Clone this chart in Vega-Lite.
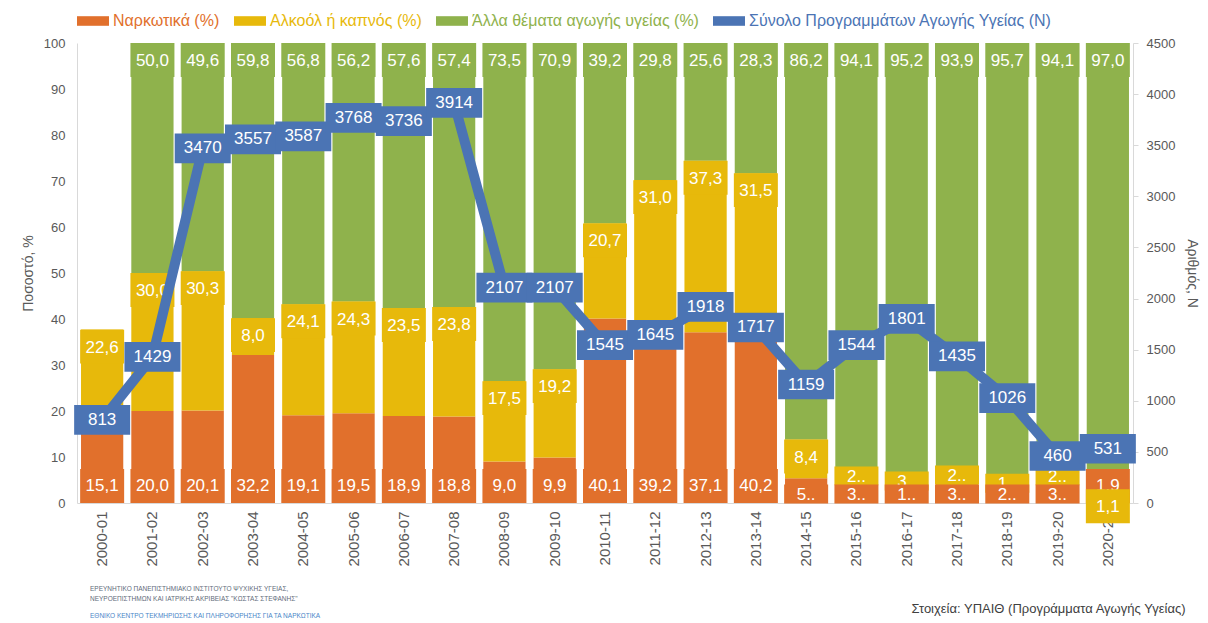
{
  "$schema": "https://vega.github.io/schema/vega-lite/v6.json",
  "width": 1056,
  "height": 460,
  "autosize": {"type": "none"},
  "padding": {"left": 77, "top": 43, "right": 75, "bottom": 120},
  "background": "white",
  "config": {
    "locale": {"number": {"decimal": ",", "thousands": ".", "grouping": [3], "currency": ["", " €"]}},
    "font": "Liberation Sans",
    "view": {"stroke": null},
    "axis": {"labelColor": "#595959", "titleColor": "#595959", "domainColor": "#D9D9D9", "tickColor": "#D9D9D9", "grid": false, "labelFont": "Liberation Sans", "titleFont": "Liberation Sans", "titleFontWeight": "normal"}
  },
  "title": {
    "text": ["ΕΡΕΥΝΗΤΙΚΟ ΠΑΝΕΠΙΣΤΗΜΙΑΚΟ ΙΝΣΤΙΤΟΥΤΟ ΨΥΧΙΚΗΣ ΥΓΕΙΑΣ,", "ΝΕΥΡΟΕΠΙΣΤΗΜΩΝ ΚΑΙ ΙΑΤΡΙΚΗΣ ΑΚΡΙΒΕΙΑΣ \"ΚΩΣΤΑΣ ΣΤΕΦΑΝΗΣ\""],
    "subtitle": "ΕΘΝΙΚΟ ΚΕΝΤΡΟ ΤΕΚΜΗΡΙΩΣΗΣ ΚΑΙ ΠΛΗΡΟΦΟΡΗΣΗΣ ΓΙΑ ΤΑ ΝΑΡΚΩΤΙΚΑ",
    "orient": "bottom",
    "anchor": "start",
    "frame": "group",
    "font": "Liberation Sans",
    "fontSize": 6.5,
    "fontWeight": "normal",
    "color": "#5F6B7A",
    "lineHeight": 10,
    "subtitleFont": "Liberation Sans",
    "subtitleFontSize": 6.5,
    "subtitleColor": "#4A86C8",
    "subtitlePadding": 10,
    "dx": 13,
    "dy": -33
  },
  "datasets": {
    "shares": [
      {"year": "2000-01", "Ναρκωτικά (%)": 15.1, "Αλκοόλ ή καπνός (%)": 22.6},
      {"year": "2001-02", "Ναρκωτικά (%)": 20.0, "Αλκοόλ ή καπνός (%)": 30.0, "Άλλα θέματα αγωγής υγείας (%)": 50.0},
      {"year": "2002-03", "Ναρκωτικά (%)": 20.1, "Αλκοόλ ή καπνός (%)": 30.3, "Άλλα θέματα αγωγής υγείας (%)": 49.6},
      {"year": "2003-04", "Ναρκωτικά (%)": 32.2, "Αλκοόλ ή καπνός (%)": 8.0, "Άλλα θέματα αγωγής υγείας (%)": 59.8},
      {"year": "2004-05", "Ναρκωτικά (%)": 19.1, "Αλκοόλ ή καπνός (%)": 24.1, "Άλλα θέματα αγωγής υγείας (%)": 56.8},
      {"year": "2005-06", "Ναρκωτικά (%)": 19.5, "Αλκοόλ ή καπνός (%)": 24.3, "Άλλα θέματα αγωγής υγείας (%)": 56.2},
      {"year": "2006-07", "Ναρκωτικά (%)": 18.9, "Αλκοόλ ή καπνός (%)": 23.5, "Άλλα θέματα αγωγής υγείας (%)": 57.6},
      {"year": "2007-08", "Ναρκωτικά (%)": 18.8, "Αλκοόλ ή καπνός (%)": 23.8, "Άλλα θέματα αγωγής υγείας (%)": 57.4},
      {"year": "2008-09", "Ναρκωτικά (%)": 9.0, "Αλκοόλ ή καπνός (%)": 17.5, "Άλλα θέματα αγωγής υγείας (%)": 73.5},
      {"year": "2009-10", "Ναρκωτικά (%)": 9.9, "Αλκοόλ ή καπνός (%)": 19.2, "Άλλα θέματα αγωγής υγείας (%)": 70.9},
      {"year": "2010-11", "Ναρκωτικά (%)": 40.1, "Αλκοόλ ή καπνός (%)": 20.7, "Άλλα θέματα αγωγής υγείας (%)": 39.2},
      {"year": "2011-12", "Ναρκωτικά (%)": 39.2, "Αλκοόλ ή καπνός (%)": 31.0, "Άλλα θέματα αγωγής υγείας (%)": 29.8},
      {"year": "2012-13", "Ναρκωτικά (%)": 37.1, "Αλκοόλ ή καπνός (%)": 37.3, "Άλλα θέματα αγωγής υγείας (%)": 25.6},
      {"year": "2013-14", "Ναρκωτικά (%)": 40.2, "Αλκοόλ ή καπνός (%)": 31.5, "Άλλα θέματα αγωγής υγείας (%)": 28.3},
      {"year": "2014-15", "Ναρκωτικά (%)": 5.4, "Αλκοόλ ή καπνός (%)": 8.4, "Άλλα θέματα αγωγής υγείας (%)": 86.2},
      {"year": "2015-16", "Ναρκωτικά (%)": 3.6, "Αλκοόλ ή καπνός (%)": 2.3, "Άλλα θέματα αγωγής υγείας (%)": 94.1},
      {"year": "2016-17", "Ναρκωτικά (%)": 1.6, "Αλκοόλ ή καπνός (%)": 3.2, "Άλλα θέματα αγωγής υγείας (%)": 95.2},
      {"year": "2017-18", "Ναρκωτικά (%)": 3.4, "Αλκοόλ ή καπνός (%)": 2.7, "Άλλα θέματα αγωγής υγείας (%)": 93.9},
      {"year": "2018-19", "Ναρκωτικά (%)": 2.6, "Αλκοόλ ή καπνός (%)": 1.7, "Άλλα θέματα αγωγής υγείας (%)": 95.7},
      {"year": "2019-20", "Ναρκωτικά (%)": 3.4, "Αλκοόλ ή καπνός (%)": 2.5, "Άλλα θέματα αγωγής υγείας (%)": 94.1},
      {"year": "2020-21", "Ναρκωτικά (%)": 1.9, "Αλκοόλ ή καπνός (%)": 1.1, "Άλλα θέματα αγωγής υγείας (%)": 97.0}
    ],
    "totals": [
      {"year": "2000-01", "n": 813},
      {"year": "2001-02", "n": 1429},
      {"year": "2002-03", "n": 3470},
      {"year": "2003-04", "n": 3557},
      {"year": "2004-05", "n": 3587},
      {"year": "2005-06", "n": 3768},
      {"year": "2006-07", "n": 3736},
      {"year": "2007-08", "n": 3914},
      {"year": "2008-09", "n": 2107},
      {"year": "2009-10", "n": 2107},
      {"year": "2010-11", "n": 1545},
      {"year": "2011-12", "n": 1645},
      {"year": "2012-13", "n": 1918},
      {"year": "2013-14", "n": 1717},
      {"year": "2014-15", "n": 1159},
      {"year": "2015-16", "n": 1544},
      {"year": "2016-17", "n": 1801},
      {"year": "2017-18", "n": 1435},
      {"year": "2018-19", "n": 1026},
      {"year": "2019-20", "n": 460},
      {"year": "2020-21", "n": 531}
    ]
  },
  "layer": [
    {
      "data": {"name": "shares"},
      "transform": [
        {"fold": ["Ναρκωτικά (%)", "Αλκοόλ ή καπνός (%)", "Άλλα θέματα αγωγής υγείας (%)"], "as": ["series", "value"]},
        {"filter": "isValid(datum.value)"},
        {"stack": "value", "groupby": ["year"], "sort": [{"field": "series", "order": "descending"}], "as": ["v0", "v1"]}
      ],
      "encoding": {
        "x": {
          "field": "year", "type": "nominal", "sort": null,
          "scale": {"paddingInner": 0.16, "paddingOuter": 0.08},
          "axis": {"title": "Στοιχεία: ΥΠΑΙΘ (Προγράμματα Αγωγής Υγείας)", "titleAnchor": "end", "titleAlign": "right", "titleBaseline": "middle", "titleX": 1108, "titleY": 105, "titleFontSize": 13, "titleColor": "#404040", "labelAngle": -90, "labelFontSize": 15, "labelPadding": 8, "ticks": false, "domain": true}
        },
        "color": {
          "field": "series", "type": "nominal",
          "scale": {
            "domain": ["Ναρκωτικά (%)", "Αλκοόλ ή καπνός (%)", "Άλλα θέματα αγωγής υγείας (%)", "Σύνολο Προγραμμάτων Αγωγής Υγείας (N)"],
            "range": ["#E1702C", "#E7B90B", "#8FB24C", "#4B74B4"]
          },
          "legend": {
            "orient": "top", "direction": "horizontal", "title": null,
            "labelFontSize": 16, "labelFont": "Liberation Sans",
            "symbolType": "M-1,-0.3L1,-0.3L1,0.3L-1,0.3Z", "symbolSize": 1024, "symbolStrokeWidth": 0,
            "columnPadding": 14, "labelOffset": 4, "offset": 14, "labelLimit": 400,
            "encode": {
              "symbols": {"update": {"fill": {"scale": "color", "field": "value"}, "stroke": {"value": "transparent"}, "opacity": {"value": 1}, "shape": {"value": "M-1,-0.3L1,-0.3L1,0.3L-1,0.3Z"}}},
              "labels": {"update": {"fill": {"scale": "color", "field": "value"}}}
            }
          }
        }
      },
      "layer": [
        {
          "mark": {"type": "bar"},
          "encoding": {
            "y": {
              "field": "v0", "type": "quantitative", "scale": {"domain": [0, 100]},
              "axis": {"title": "Ποσοστό, %", "titleFontSize": 14, "titlePadding": 8, "values": [0, 10, 20, 30, 40, 50, 60, 70, 80, 90, 100], "labelFontSize": 13, "labelPadding": 12, "ticks": false, "domain": true}
            },
            "y2": {"field": "v1"}
          }
        },
        {
          "transform": [{"filter": "datum.series == 'Ναρκωτικά (%)' && indexof(['2014-15','2015-16','2016-17','2017-18','2018-19','2019-20'], datum.year) < 0"}],
          "layer": [
            {"mark": {"type": "point", "shape": "M-1,-0.77L1,-0.77L1,0.77L-1,0.77Z", "size": 1936, "filled": true, "opacity": 1, "strokeWidth": 0, "yOffset": -17},
             "encoding": {"y": {"field": "v0", "type": "quantitative"}}},
            {"mark": {"type": "text", "yOffset": -17, "color": "white", "fontSize": 17, "baseline": "middle"},
             "encoding": {"y": {"field": "v0", "type": "quantitative"}, "text": {"field": "value", "type": "quantitative", "format": ".1f"}, "color": {"value": "white"}}}
          ]
        },
        {
          "transform": [{"filter": "datum.series != 'Ναρκωτικά (%)' && !(datum.series == 'Αλκοόλ ή καπνός (%)' && indexof(['2015-16','2016-17','2017-18','2018-19','2019-20'], datum.year) >= 0)"}],
          "layer": [
            {"mark": {"type": "point", "shape": "M-1,-0.77L1,-0.77L1,0.77L-1,0.77Z", "size": 1936, "filled": true, "opacity": 1, "strokeWidth": 0, "yOffset": 17},
             "encoding": {"y": {"field": "v1", "type": "quantitative"}}},
            {"mark": {"type": "text", "yOffset": 18, "color": "white", "fontSize": 17, "baseline": "middle"},
             "encoding": {"y": {"field": "v1", "type": "quantitative"}, "text": {"field": "value", "type": "quantitative", "format": ".1f"}, "color": {"value": "white"}}}
          ]
        },
        {
          "transform": [{"filter": "datum.series == 'Αλκοόλ ή καπνός (%)' && indexof(['2015-16','2016-17','2017-18','2018-19','2019-20'], datum.year) >= 0"}],
          "layer": [
            {"mark": {"type": "point", "shape": "M-1,-0.43L1,-0.43L1,0.43L-1,0.43Z", "size": 1936, "filled": true, "opacity": 1, "strokeWidth": 0, "yOffset": 0},
             "encoding": {"y": {"field": "v1", "type": "quantitative"}}},
            {"mark": {"type": "text", "yOffset": 1, "color": "white", "fontSize": 17, "baseline": "middle", "limit": 20, "ellipsis": ".."},
             "encoding": {"y": {"field": "v1", "type": "quantitative"}, "text": {"field": "value", "type": "quantitative", "format": ".1f"}, "color": {"value": "white"}}}
          ]
        },
        {
          "transform": [{"filter": "datum.series == 'Ναρκωτικά (%)' && indexof(['2014-15','2015-16','2016-17','2017-18','2018-19','2019-20'], datum.year) >= 0"}],
          "layer": [
            {"mark": {"type": "point", "shape": "M-1,-0.43L1,-0.43L1,0.43L-1,0.43Z", "size": 1936, "filled": true, "opacity": 1, "strokeWidth": 0, "yOffset": -9},
             "encoding": {"y": {"field": "v0", "type": "quantitative"}}},
            {"mark": {"type": "text", "yOffset": -8, "color": "white", "fontSize": 17, "baseline": "middle", "limit": 20, "ellipsis": ".."},
             "encoding": {"y": {"field": "v0", "type": "quantitative"}, "text": {"field": "value", "type": "quantitative", "format": ".1f"}, "color": {"value": "white"}}}
          ]
        }
      ]
    },
    {
      "data": {"name": "totals"},
      "encoding": {
        "x": {"field": "year", "type": "nominal", "sort": null},
        "y": {
          "field": "n", "type": "quantitative", "scale": {"domain": [0, 4500]},
          "axis": {"orient": "right", "title": "Αριθμός, N", "titleFontSize": 14, "titlePadding": 10, "values": [0, 500, 1000, 1500, 2000, 2500, 3000, 3500, 4000, 4500], "format": "d", "labelFontSize": 13, "labelPadding": 8, "tickSize": 5, "ticks": true, "domain": true}
        }
      },
      "layer": [
        {
          "mark": {"type": "line", "strokeWidth": 10},
          "encoding": {"color": {"datum": "Σύνολο Προγραμμάτων Αγωγής Υγείας (N)"}}
        },
        {
          "mark": {"type": "point", "shape": "M-1,-0.53L1,-0.53L1,0.53L-1,0.53Z", "size": 3136, "filled": true, "color": "#4B74B4", "opacity": 1, "strokeWidth": 0}
        },
        {
          "mark": {"type": "text", "color": "white", "fontSize": 17, "baseline": "middle"},
          "encoding": {"text": {"field": "n", "type": "quantitative", "format": "d"}}
        }
      ]
    }
  ],
  "resolve": {"scale": {"y": "independent"}}
}
